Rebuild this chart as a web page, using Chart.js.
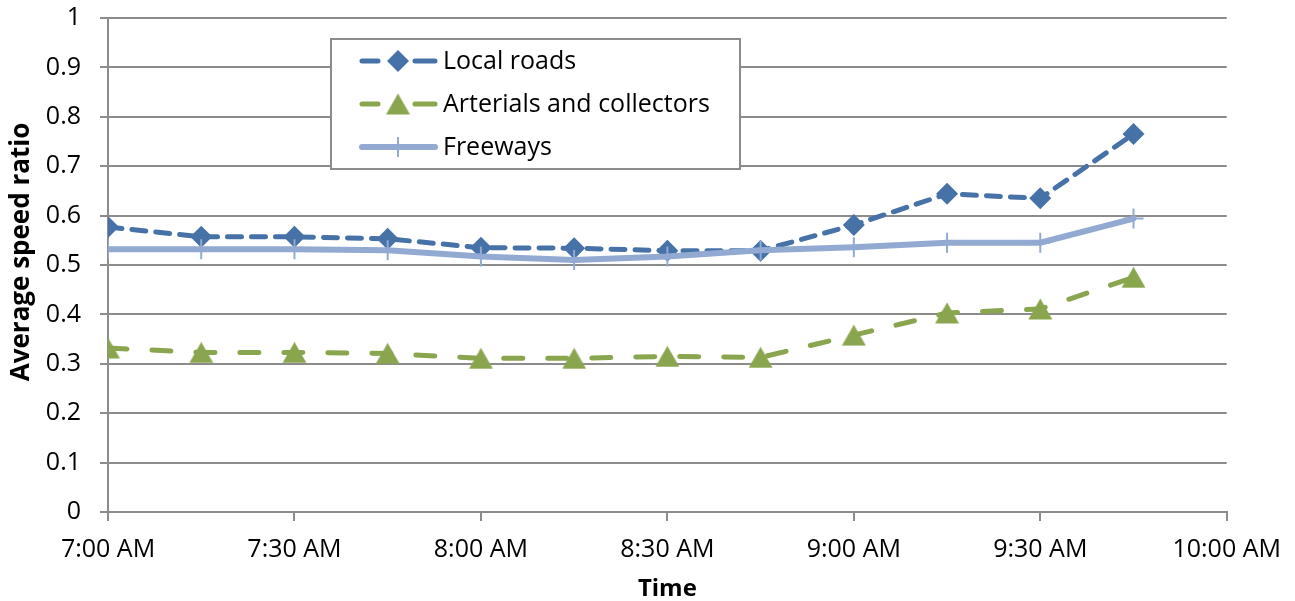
<!DOCTYPE html>
<html>
<head>
<meta charset="utf-8">
<script src="https://cdn.jsdelivr.net/npm/chart.js@4/dist/chart.umd.min.js"></script>
<style>
  html, body { margin: 0; padding: 0; background: #ffffff; }
  #wrap { width: 1295px; height: 601px; }
</style>
</head>
<body>
<div id="wrap"><canvas id="chart" width="1295" height="601"></canvas></div>
<script>
// Observation times (15-minute steps starting at 7:00 AM)
const timeLabels = ['7:00', '7:15', '7:30', '7:45', '8:00', '8:15', '8:30', '8:45', '9:00', '9:15', '9:30', '9:45'];

// Average speed ratio per road class
const localRoads = [0.577, 0.557, 0.557, 0.553, 0.535, 0.534, 0.529, 0.529, 0.581, 0.644, 0.635, 0.765];
const arterials  = [0.332, 0.323, 0.323, 0.321, 0.311, 0.311, 0.315, 0.313, 0.358, 0.403, 0.411, 0.475];
const freeways   = [0.532, 0.532, 0.532, 0.530, 0.517, 0.510, 0.517, 0.530, 0.536, 0.545, 0.545, 0.594];

// Axis tick labels and titles
const xTickLabels = ['7:00 AM', '7:30 AM', '8:00 AM', '8:30 AM', '9:00 AM', '9:30 AM', '10:00 AM'];
const seriesNames = ['Local roads', 'Arterials and collectors', 'Freeways'];
const yTitle = 'Average speed ratio';
const xTitle = 'Time';

const FONT = "'Open Sans', 'Noto Sans', sans-serif";
const GRID = '#8c8c8c';
const BLUE = '#4672A8';
const GREEN = '#89A54E';
const LIGHT = '#92AAD2';

// minutes after 7:00 for each observation
function toMinutes(t) {
  const [h, m] = t.split(':').map(Number);
  return (h - 7) * 60 + m;
}
const xs = timeLabels.map(toMinutes);
const pts = arr => arr.map((v, i) => ({ x: xs[i], y: v }));

// Triangle marker centred on its bounding box
function triangleMarker(color) {
  const c = document.createElement('canvas');
  c.width = 25; c.height = 22;
  const g = c.getContext('2d');
  g.fillStyle = color;
  g.beginPath();
  g.moveTo(12.5, 0.5);
  g.lineTo(24.5, 21.5);
  g.lineTo(0.5, 21.5);
  g.closePath();
  g.fill();
  return c;
}
const triImg = triangleMarker(GREEN);

const datasets = [
  {
    label: seriesNames[0],
    data: pts(localRoads),
    borderColor: BLUE,
    backgroundColor: BLUE,
    borderWidth: 5,
    borderDash: [14, 10],
    borderCapStyle: 'round',
    pointStyle: 'rectRot',
    pointRadius: 11,
    pointBorderWidth: 0,
    pointBackgroundColor: BLUE,
    order: 1
  },
  {
    label: seriesNames[1],
    data: pts(arterials),
    borderColor: GREEN,
    backgroundColor: GREEN,
    borderWidth: 5,
    borderDash: [19, 25],
    borderCapStyle: 'round',
    pointStyle: triImg,
    pointRadius: 12,
    order: 2
  },
  {
    label: seriesNames[2],
    data: pts(freeways),
    borderColor: LIGHT,
    backgroundColor: LIGHT,
    borderWidth: 6,
    borderCapStyle: 'round',
    pointStyle: 'cross',
    pointRadius: 10,
    pointBorderWidth: 2,
    pointBorderColor: LIGHT,
    order: 0
  }
];

// Draw one series marker in its own colours
function drawMarker(ctx, ds, x, y) {
  ctx.save();
  ctx.fillStyle = ds.pointBackgroundColor || ds.borderColor;
  ctx.strokeStyle = ds.pointBorderColor || ds.borderColor;
  ctx.lineWidth = ds.pointBorderWidth || 0;
  Chart.helpers.drawPoint(ctx, {
    pointStyle: ds.pointStyle,
    radius: ds.pointRadius,
    rotation: 0,
    borderWidth: ds.pointBorderWidth || 0
  }, x, y);
  ctx.restore();
}

// Boxed legend drawn inside the plot area
const boxLegend = {
  id: 'boxLegend',
  afterDraw(chart) {
    const ctx = chart.ctx;
    const ca = chart.chartArea;
    const bx = ca.left + 223, by = ca.top + 21, bw = 409, bh = 130;
    ctx.save();
    ctx.fillStyle = '#ffffff';
    ctx.fillRect(bx, by, bw, bh);
    ctx.strokeStyle = GRID;
    ctx.lineWidth = 2;
    ctx.strokeRect(bx, by, bw, bh);

    const rows = [by + 22, by + 65, by + 108];
    const sx0 = bx + 31, sx1 = bx + 104, mx = bx + 67;
    chart.data.datasets.forEach((ds, r) => {
      const y = rows[r];
      ctx.save();
      ctx.strokeStyle = ds.borderColor;
      ctx.lineWidth = ds.borderWidth;
      ctx.lineCap = 'round';
      ctx.beginPath();
      if (ds.borderDash) {
        // short dashes either side of the marker
        ctx.moveTo(sx0, y); ctx.lineTo(sx0 + 16, y);
        ctx.moveTo(sx1 - 20, y); ctx.lineTo(sx1, y);
      } else {
        ctx.moveTo(sx0, y); ctx.lineTo(sx1, y);
      }
      ctx.stroke();
      ctx.restore();
      drawMarker(ctx, ds, mx, y);
      ctx.fillStyle = '#000000';
      ctx.font = '25px ' + FONT;
      ctx.textBaseline = 'middle';
      ctx.textAlign = 'left';
      ctx.fillText(ds.label, bx + 112, y + 1);
    });
    ctx.restore();
  }
};

// Vertical axis title, placed beside the value labels
const yAxisTitle = {
  id: 'yAxisTitle',
  afterDraw(chart) {
    const ctx = chart.ctx;
    const ca = chart.chartArea;
    ctx.save();
    ctx.translate(22, (ca.top + ca.bottom) / 2 - 13);
    ctx.rotate(-Math.PI / 2);
    ctx.fillStyle = '#000000';
    ctx.font = 'bold 26px ' + FONT;
    ctx.textAlign = 'center';
    ctx.textBaseline = 'middle';
    ctx.fillText(yTitle, 0, 0);
    ctx.restore();
  }
};

new Chart(document.getElementById('chart'), {
  type: 'line',
  data: { datasets },
  options: {
    responsive: false,
    animation: false,
    layout: { padding: { left: 0, right: 67, top: 18, bottom: 0 } },
    plugins: {
      legend: { display: false },
      tooltip: { enabled: false }
    },
    scales: {
      x: {
        type: 'linear',
        min: 0,
        max: 180,
        afterFit(scale) { scale.height = 89; },
        afterBuildTicks(scale) {
          scale.ticks = xTickLabels.map((_, i) => ({ value: i * 30 }));
        },
        ticks: {
          autoSkip: false,
          maxRotation: 0,
          padding: 14,
          color: '#000000',
          font: { family: FONT, size: 25 },
          callback: (v, i) => xTickLabels[i]
        },
        grid: {
          drawOnChartArea: false,
          drawTicks: true,
          tickLength: 9,
          color: GRID,
          lineWidth: 2
        },
        border: { display: true, color: GRID, width: 2 },
        title: {
          display: true,
          text: xTitle,
          color: '#000000',
          padding: 0,
          font: { family: FONT, size: 24, weight: 'bold', lineHeight: 1.0 }
        }
      },
      y: {
        min: 0,
        max: 1,
        afterFit(scale) {
          scale.width = 108;
          scale.paddingTop = 0;
          scale.paddingBottom = 0;
        },
        ticks: {
          stepSize: 0.1,
          padding: 19,
          color: '#000000',
          font: { family: FONT, size: 25 },
          callback: v => String(Number(v.toFixed(1)))
        },
        grid: {
          color: GRID,
          lineWidth: 2,
          tickLength: 8
        },
        border: { display: true, color: GRID, width: 2 },
        title: { display: false }
      }
    }
  },
  plugins: [boxLegend, yAxisTitle]
});
</script>
</body>
</html>
